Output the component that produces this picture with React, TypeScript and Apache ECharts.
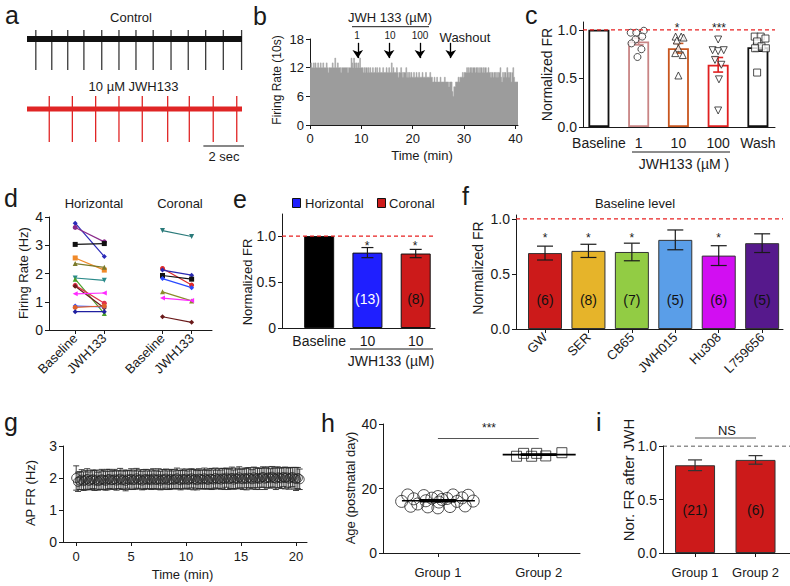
import React, { useEffect, useRef } from 'react';
import * as echarts from 'echarts';

const FONT = '"Liberation Sans", Arial, Helvetica, sans-serif';
const INK = '#1a1a1a';

// ---------- panel a : spike trains (spike times, s) ----------
const aControlSpikes = [0.42, 1.18, 1.94, 2.71, 3.56, 4.38, 5.19, 6.01, 6.86, 7.68, 8.51, 9.35, 10.22];
const aJwhSpikes = [1.06, 2.16, 3.27, 4.38, 5.49, 6.7, 7.73, 8.87, 9.99];
const aTraceLength = 10.24;
const aScaleBar = [8.4, 10.4];

// ---------- panel b : firing rate per 10 s bin ----------
const bBinMinutes = 1 / 6;
const bCounts = [
  12, 13, 12, 12, 13, 12, 13, 12, 12, 13, 12, 12, 13, 12, 12, 13, 12, 12, 12, 13, 12, 11, 12, 12,
  12, 12, 13, 12, 12, 14, 12, 12, 13, 12, 12, 12, 11, 12, 12, 12, 12, 12, 12, 12, 11, 12, 12, 12,
  14, 13, 12, 14, 13, 12, 13, 12, 13, 12, 14, 12, 12, 12, 11, 12, 11, 12, 12, 11, 12, 11, 12, 11,
  11, 12, 11, 11, 12, 11, 12, 11, 11, 12, 11, 11, 11, 12, 11, 11, 11, 12, 11, 11, 12, 11, 11, 13,
  11, 12, 11, 11, 11, 12, 11, 10, 11, 11, 12, 11, 10, 11, 11, 11, 12, 10, 11, 10, 11, 10, 11, 10,
  10, 11, 10, 10, 11, 10, 10, 11, 10, 10, 10, 11, 10, 10, 10, 11, 10, 10, 10, 10, 11, 10, 10, 9,
  9, 10, 9, 9, 10, 9, 9, 9, 10, 9, 9, 9, 9, 10, 9, 9, 9, 9, 8, 9, 9, 9, 7, 6,
  8, 8, 9, 9, 9, 10, 9, 10, 10, 10, 11, 10, 11, 11, 11, 12, 11, 12, 11, 12, 12, 11, 12, 12,
  12, 11, 12, 12, 11, 12, 11, 12, 12, 11, 12, 11, 12, 12, 11, 11, 12, 11, 11, 10, 11, 11, 10, 11,
  11, 10, 11, 10, 11, 11, 12, 10, 9, 11, 10, 11, 11, 10, 12, 11, 10, 11, 11, 9, 11, 12, 10, 9,
  9, 9, 9,
];
const bEventTimes = [9.3, 15.4, 21.4, 27.4];
const bXTicks = [0, 10, 20, 30, 40];
const bYTicks = [0, 6, 12, 18];

// ---------- panel c ----------
const cCategories = ['Baseline', '1', '10', '100', 'Wash'];
const cMeans = [1.0, 0.88, 0.81, 0.64, 0.82];
const cErrors = [0, 0.035, 0.05, 0.075, 0.04];
const cPoints1 = [0.97, 0.97, 0.99, 0.93, 0.9, 0.86, 0.8, 0.72];
const cPoints10 = [0.93, 0.93, 0.92, 0.89, 0.81, 0.76, 0.74, 0.53];
const cPoints100 = [0.9, 0.79, 0.78, 0.79, 0.69, 0.64, 0.49, 0.17];
const cPointsWash = [0.93, 0.93, 0.91, 0.88, 0.83, 0.81, 0.81, 0.56];
const cJitter1 = [-0.2, -0.06, 0.13, 0.09, -0.08, -0.18, 0.07, -0.03];
const cJitter10 = [-0.07, 0.07, 0.13, -0.04, 0, -0.08, 0.11, 0];
const cJitter100 = [0, -0.14, 0, 0.14, -0.08, 0.08, 0.02, 0];
const cJitterWash = [-0.08, 0.07, 0.19, -0.02, 0.09, 0.2, -0.07, -0.02];
const cColors = ['#111111', '#c98585', '#c8561f', '#e02020', '#111111'];

// ---------- panel d ----------
const dHorizBaseline = [3.78, 3.63, 3.03, 2.55, 2.35, 1.84, 1.8, 1.58, 1.55, 1.28, 0.85, 0.8, 0.65];
const dHorizJwh = [2.6, 3.12, 3.06, 2.12, 2.22, 1.76, 0.58, 0.95, 0.78, 1.31, 0.82, 0.85, 0.65];
const dCoronBaseline = [3.52, 2.18, 2.12, 1.93, 1.82, 1.35, 1.13, 0.47];
const dCoronJwh = [3.31, 1.59, 1.94, 1.8, 1.5, 1.03, 1.04, 0.27];
const dHorizColors = ['#2a2ab8', '#8a2a8a', '#111111', '#f08a2a', '#7a7a2a', '#2a8a8a', '#4aa02a', '#e0304a', '#6a1a1a', '#ff2aff', '#2a4aff', '#e0602a', '#2020a0'];
const dCoronColors = ['#2a7a7a', '#e02a2a', '#2a2ab0', '#111111', '#2a4aff', '#8a8a2a', '#ff2aff', '#6a1a1a'];
const dXLabels = ['Baseline', 'JWH133', '', 'Baseline', 'JWH133'];

// ---------- panel e ----------
const eCategories = ['Baseline', '10', '10'];
const eMeans = [1.0, 0.82, 0.81];
const eErrors = [0, 0.055, 0.045];
const eCounts = ['', '(13)', '(8)'];
const eColors = ['#000000', '#1f1fff', '#cc1a1a'];

// ---------- panel f ----------
const fCategories = ['GW', 'SER', 'CB65', 'JWH015', 'Hu308', 'L759656'];
const fMeans = [0.69, 0.71, 0.7, 0.81, 0.667, 0.78];
const fErrors = [0.063, 0.06, 0.08, 0.09, 0.09, 0.085];
const fCounts = ['(6)', '(8)', '(7)', '(5)', '(6)', '(5)'];
const fSignificant = [true, true, true, false, true, false];
const fColors = ['#cc1a1a', '#e6b42a', '#92cc44', '#5a9ee8', '#d20ef2', '#56198c'];

// ---------- panel g ----------
const gMinutesPerPoint = 1 / 6;
const gMeans = [
  2.0, 1.88, 1.92, 1.95, 1.9, 1.93, 1.97, 1.91, 1.94, 1.96,
  1.92, 1.95, 1.9, 1.93, 1.96, 1.94, 1.91, 1.95, 1.97, 1.93,
  1.94, 1.96, 1.92, 1.95, 1.98, 1.93, 1.95, 1.91, 1.96, 1.94,
  1.97, 1.93, 1.95, 1.99, 1.94, 1.96, 1.92, 1.95, 1.97, 1.94,
  1.96, 1.93, 1.98, 1.95, 1.94, 1.97, 1.92, 1.96, 1.95, 1.98,
  1.93, 1.95, 1.97, 1.94, 1.96, 1.99, 1.95, 1.93, 1.97, 1.95,
  1.98, 1.94, 1.96, 1.99, 1.95, 1.97, 1.93, 1.98, 1.96, 1.95,
  1.99, 1.96, 1.94, 1.98, 1.97, 1.95, 2.0, 1.96, 1.98, 1.95,
  1.99, 1.97, 2.01, 1.96, 1.98, 2.0, 1.95, 1.99, 1.97, 2.02,
  1.98, 1.96, 2.0, 1.97, 2.01, 1.99, 1.96, 2.02, 1.98, 2.0,
  1.97, 2.01, 2.03, 1.98, 2.0, 2.02, 1.99, 2.04, 2.0, 1.98,
  2.02, 2.01, 1.99, 2.03, 2.0, 2.02, 1.98, 2.01, 2.03, 1.99,
  1.97, 2.0, 1.96,
];
const gErrors = [
  0.38, 0.3, 0.28, 0.31, 0.29, 0.3, 0.32, 0.28, 0.3, 0.29,
  0.31, 0.3, 0.28, 0.29, 0.31, 0.3, 0.29, 0.32, 0.3, 0.28,
  0.29, 0.31, 0.3, 0.28, 0.32, 0.29, 0.3, 0.31, 0.28, 0.3,
  0.32, 0.29, 0.3, 0.31, 0.28, 0.3, 0.29, 0.31, 0.3, 0.28,
  0.3, 0.29, 0.31, 0.3, 0.28, 0.32, 0.29, 0.3, 0.31, 0.3,
  0.29, 0.31, 0.3, 0.28, 0.3, 0.32, 0.29, 0.3, 0.31, 0.29,
  0.3, 0.28, 0.31, 0.3, 0.32, 0.29, 0.3, 0.31, 0.29, 0.3,
  0.32, 0.3, 0.29, 0.31, 0.33, 0.3, 0.31, 0.29, 0.32, 0.3,
  0.31, 0.33, 0.3, 0.32, 0.31, 0.34, 0.3, 0.32, 0.31, 0.33,
  0.3, 0.32, 0.31, 0.34, 0.31, 0.33, 0.3, 0.32, 0.34, 0.31,
  0.33, 0.3, 0.32, 0.34, 0.31, 0.33, 0.3, 0.32, 0.31, 0.34,
  0.33, 0.31, 0.32, 0.3, 0.34, 0.31, 0.33, 0.32, 0.3, 0.34,
  0.36, 0.33, 0.32,
];

// ---------- panel h ----------
const hGroups = ['Group 1', 'Group 2'];
const hGroup1Ages = [18.0, 17.8, 17.5, 18.0, 17.9, 16.8, 17.0, 16.6, 16.9, 17.1, 16.0, 16.2, 15.8, 16.0, 16.1, 14.5, 14.3, 14.0, 14.4, 14.6, 15.2];
const hGroup1Jitter = [-0.3, -0.14, 0.0, 0.15, 0.3, -0.24, -0.06, 0.04, 0.09, 0.24, -0.36, -0.12, 0.01, 0.19, 0.35, -0.27, -0.1, 0.0, 0.12, 0.27, -0.2];
const hGroup2Ages = [30.0, 30.9, 30.0, 30.9, 30.1, 31.1];
const hGroup2Jitter = [-0.22, -0.15, -0.07, -0.02, 0.07, 0.23];
const hSignificanceLevel = 35.6;

// ---------- panel i ----------
const iMeans = [0.82, 0.87];
const iErrors = [0.05, 0.04];
const iCounts = ['(21)', '(6)'];

// reference level (normalized firing rate = 1)
const referenceLevel = 1.0;

// ================= helpers =================
const INV_TRI = 'path://M0,0L10,0L5,9Z';
const LEFT_TRI = 'path://M10,0L10,10L0,5Z';
const dHorizSymbols = ['diamond', 'circle', 'rect', 'rect', 'triangle', INV_TRI, 'triangle', 'circle', 'diamond', LEFT_TRI, 'diamond', 'circle', 'diamond'];
const dCoronSymbols = [INV_TRI, 'circle', 'diamond', 'rect', 'diamond', 'triangle', LEFT_TRI, 'diamond'];

function mkAxis(gi: number, min: number, max: number, o: any = {}) {
  const label: any = {
    show: o.showLabels ?? true,
    color: INK,
    fontSize: o.fontSize ?? 13,
    fontFamily: FONT,
    margin: o.margin ?? 6,
    rotate: o.rotate ?? 0,
  };
  const tick: any = { show: o.showTicks ?? true, length: 4, lineStyle: { color: INK, width: 1 } };
  if (o.ticks) {
    label.customValues = o.ticks;
    tick.customValues = o.ticks;
  }
  if (o.fmt) label.formatter = o.fmt;
  return {
    type: 'value',
    gridIndex: gi,
    min,
    max,
    show: o.show ?? true,
    axisLine: { show: true, onZero: false, lineStyle: { color: INK, width: 1 } },
    axisTick: tick,
    axisLabel: label,
    splitLine: { show: false },
  };
}

function errSeries(ai: number, xs: number[], means: number[], errs: number[], colors: string[] | string, cap: number, lw: number, z = 5) {
  const data: number[][] = [];
  const cols: string[] = [];
  means.forEach((m, i) => {
    if (errs[i] > 0) {
      data.push([xs[i], m, errs[i]]);
      cols.push(Array.isArray(colors) ? colors[i] : colors);
    }
  });
  return {
    type: 'custom',
    xAxisIndex: ai,
    yAxisIndex: ai,
    z,
    silent: true,
    encode: { x: 0, y: 1 },
    data,
    renderItem: (p: any, api: any) => {
      const x = api.value(0);
      const m = api.value(1);
      const e = api.value(2);
      const t = api.coord([x, m + e]);
      const b = api.coord([x, m - e]);
      const st = { stroke: cols[p.dataIndex], lineWidth: lw };
      return {
        type: 'group',
        children: [
          { type: 'line', shape: { x1: t[0], y1: t[1], x2: b[0], y2: b[1] }, style: st },
          { type: 'line', shape: { x1: t[0] - cap, y1: t[1], x2: t[0] + cap, y2: t[1] }, style: st },
          { type: 'line', shape: { x1: b[0] - cap, y1: b[1], x2: b[0] + cap, y2: b[1] }, style: st },
        ],
      };
    },
  };
}

// dashed horizontal reference line across a grid, as its own line series
function refLine(ai: number, xMin: number, xMax: number, color: string) {
  return {
    type: 'line',
    xAxisIndex: ai,
    yAxisIndex: ai,
    silent: true,
    symbol: 'none',
    z: 7,
    data: [[xMin, referenceLevel], [xMax, referenceLevel]],
    lineStyle: { color, type: [4, 3], width: 1.2 },
    itemStyle: { color },
  };
}

const mean = (a: number[]) => a.reduce((s, v) => s + v, 0) / a.length;
const sem = (a: number[]) => {
  const m = mean(a);
  const sd = Math.sqrt(a.reduce((s, v) => s + (v - m) * (v - m), 0) / (a.length - 1));
  return sd / Math.sqrt(a.length);
};

// ================= option =================
function buildOption() {
  const idx = (arr: any[]) => arr.map((_, i) => i);
  const grids = [
    { left: 27, top: 24, width: 215, height: 135 }, // a
    { left: 310, top: 39, width: 208, height: 86 }, // b
    { left: 583, top: 22, width: 192, height: 105 }, // c
    { left: 49, top: 217, width: 163, height: 113 }, // d
    { left: 282, top: 214, width: 153, height: 114 }, // e
    { left: 516, top: 215, width: 267, height: 114 }, // f
    { left: 63, top: 446, width: 244, height: 96 }, // g
    { left: 383, top: 424, width: 197, height: 129 }, // h
    { left: 663, top: 446, width: 127, height: 107 }, // i
  ].map((g) => ({ ...g, containLabel: false, outerBoundsMode: 'none' }));

  const xr = {
    c: [-0.4, 4.43],
    e: [-0.77, 2.4],
    f: [-0.668, 5.48],
    i: [-0.53, 1.57],
  };

  const fmt1 = (v: number) => v.toFixed(1);
  const xAxis = [
    mkAxis(0, 0, aTraceLength, { show: false }),
    mkAxis(1, 0, 40.5, { ticks: bXTicks, margin: 7 }),
    mkAxis(2, xr.c[0], xr.c[1], { ticks: idx(cCategories), fmt: (v: number) => cCategories[Math.round(v)], showTicks: false, margin: 9, fontSize: 14 }),
    mkAxis(3, -0.9, 4.7, { ticks: [0, 1, 3, 4], fmt: (v: number) => dXLabels[Math.round(v)], rotate: 45, margin: 6 }),
    mkAxis(4, xr.e[0], xr.e[1], { ticks: idx(eCategories), fmt: (v: number) => eCategories[Math.round(v)], showTicks: false, margin: 6, fontSize: 14 }),
    mkAxis(5, xr.f[0], xr.f[1], { ticks: idx(fCategories), fmt: (v: number) => fCategories[Math.round(v)], rotate: 45, margin: 6 }),
    mkAxis(6, -1.2, 21, { ticks: [0, 5, 10, 15, 20], margin: 8 }),
    mkAxis(7, -0.545, 1.41, { ticks: [0, 1], fmt: (v: number) => hGroups[Math.round(v)], margin: 13 }),
    mkAxis(8, xr.i[0], xr.i[1], { ticks: [0, 1], fmt: (v: number) => hGroups[Math.round(v)], margin: 13 }),
  ];
  const yAxis = [
    mkAxis(0, -120, 15, { show: false }),
    mkAxis(1, 0, 18, { ticks: bYTicks }),
    mkAxis(2, 0, 1.08, { ticks: [0, 0.5, 1], fmt: fmt1, fontSize: 14 }),
    mkAxis(3, 0, 4, { ticks: [0, 1, 2, 3, 4], fontSize: 14 }),
    mkAxis(4, 0, 1.24, { ticks: [0, 0.5, 1], fmt: (v: number) => (v === 0 ? '0' : v.toFixed(1)), fontSize: 14 }),
    mkAxis(5, 0, 1.036, { ticks: [0, 0.5, 1], fmt: fmt1, fontSize: 14 }),
    mkAxis(6, 0, 3, { ticks: [0, 1, 2, 3], fontSize: 14 }),
    mkAxis(7, 0, 40, { ticks: [0, 20, 40], fontSize: 14 }),
    mkAxis(8, 0, 1.0, { ticks: [0, 0.5, 1], fmt: fmt1, fontSize: 14 }),
  ];

  const series: any[] = [];

  // ---- a ----
  const aCtrlBase = 0;
  const aJwhBase = -70;
  series.push({
    type: 'line', xAxisIndex: 0, yAxisIndex: 0, silent: true, symbol: 'none',
    data: [[0, aCtrlBase], [aTraceLength, aCtrlBase]], lineStyle: { color: '#111', width: 6 },
  });
  series.push({
    type: 'line', xAxisIndex: 0, yAxisIndex: 0, silent: true, symbol: 'none',
    data: [[0, aJwhBase], [aTraceLength, aJwhBase]], lineStyle: { color: '#e02525', width: 5 },
  });
  const spikeSeries = (times: number[], base: number, up: number, down: number, color: string) => ({
    type: 'custom', xAxisIndex: 0, yAxisIndex: 0, silent: true, encode: { x: 0, y: 1 },
    data: times.map((t) => [t, base]),
    renderItem: (_p: any, api: any) => {
      const t = api.value(0);
      const a = api.coord([t, base + up]);
      const b = api.coord([t, base - down]);
      return { type: 'line', shape: { x1: a[0], y1: a[1], x2: b[0], y2: b[1] }, style: { stroke: color, lineWidth: 1.3 } };
    },
  });
  series.push(spikeSeries(aControlSpikes, aCtrlBase, 9, 31, '#3a3a3a'));
  series.push(spikeSeries(aJwhSpikes, aJwhBase, 13, 33, '#e02525'));
  series.push({
    type: 'line', xAxisIndex: 0, yAxisIndex: 0, silent: true, symbol: 'none',
    data: [[aScaleBar[0], -107], [aScaleBar[1], -107]], lineStyle: { color: '#111', width: 1.2 },
  });

  // ---- b ----
  const bData = bCounts.map((v, i) => [i * bBinMinutes, v]);
  bData.push([bCounts.length * bBinMinutes, bCounts[bCounts.length - 1]]);
  series.push({
    type: 'line', xAxisIndex: 1, yAxisIndex: 1, step: 'end', symbol: 'none', silent: true,
    data: bData,
    lineStyle: { color: '#a6a6a6', width: 0.6 },
    areaStyle: { color: '#9c9c9c', opacity: 1 },
    markLine: {
      silent: true,
      symbol: ['none', 'arrow'],
      symbolSize: 8,
      label: { show: false },
      lineStyle: { color: '#000', width: 1.3, type: 'solid' },
      data: bEventTimes.map((t) => [{ coord: [t, 17.2] }, { coord: [t, 14.0] }]),
    },
  });

  // ---- c ----
  series.push({
    type: 'bar', xAxisIndex: 2, yAxisIndex: 2, barWidth: 21, silent: true,
    data: cMeans.map((m, i) => ({ value: [i, m], itemStyle: { color: '#fff', borderColor: cColors[i], borderWidth: 1.8 } })),
  });
  series.push(refLine(2, xr.c[0], xr.c[1], '#e82020'));
  series.push(errSeries(2, idx(cMeans), cMeans, cErrors, cColors, 5, 1.6));
  const cGroups = [
    { vals: cPoints1, jit: cJitter1, pos: 1, symbol: 'circle', size: 7 },
    { vals: cPoints10, jit: cJitter10, pos: 2, symbol: 'triangle', size: 7 },
    { vals: cPoints100, jit: cJitter100, pos: 3, symbol: INV_TRI, size: 7 },
    { vals: cPointsWash, jit: cJitterWash, pos: 4, symbol: 'rect', size: 7 },
  ];
  cGroups.forEach((g) =>
    series.push({
      type: 'scatter', xAxisIndex: 2, yAxisIndex: 2, silent: true, z: 6,
      symbol: g.symbol, symbolSize: g.size,
      itemStyle: { color: '#fff', borderColor: '#222', borderWidth: 1 },
      data: g.vals.map((v, k) => [g.pos + g.jit[k], v]),
    }),
  );

  // ---- d ----
  dHorizBaseline.forEach((b, i) =>
    series.push({
      type: 'line', xAxisIndex: 3, yAxisIndex: 3, silent: true,
      data: [[0, b], [1, dHorizJwh[i]]],
      symbol: dHorizSymbols[i], symbolSize: 5,
      lineStyle: { color: dHorizColors[i], width: 1.2 },
      itemStyle: { color: dHorizColors[i] },
    }),
  );
  dCoronBaseline.forEach((b, i) =>
    series.push({
      type: 'line', xAxisIndex: 3, yAxisIndex: 3, silent: true,
      data: [[3, b], [4, dCoronJwh[i]]],
      symbol: dCoronSymbols[i], symbolSize: 5,
      lineStyle: { color: dCoronColors[i], width: 1.2 },
      itemStyle: { color: dCoronColors[i] },
    }),
  );

  // ---- e ----
  series.push({
    type: 'bar', xAxisIndex: 4, yAxisIndex: 4, barWidth: 30, silent: true,
    data: eMeans.map((m, i) => ({
      value: [i, m],
      itemStyle: { color: eColors[i], borderColor: '#111', borderWidth: 1 },
      label: { color: i === 1 ? '#fff' : '#111' },
    })),
    label: {
      show: true, position: 'insideBottom', distance: 22, fontSize: 14, fontFamily: FONT,
      formatter: (p: any) => eCounts[p.dataIndex],
    },
  });
  series.push(refLine(4, xr.e[0], xr.e[1], '#e82020'));
  series.push(errSeries(4, idx(eMeans), eMeans, eErrors, INK, 6, 1.2));

  // ---- f ----
  series.push({
    type: 'bar', xAxisIndex: 5, yAxisIndex: 5, barWidth: 34, silent: true,
    data: fMeans.map((m, i) => ({
      value: [i, m],
      itemStyle: { color: fColors[i], borderColor: '#333', borderWidth: 1 },
      label: { color: '#111' },
    })),
    label: {
      show: true, position: 'insideBottom', distance: 22, fontSize: 14, fontFamily: FONT,
      formatter: (p: any) => fCounts[p.dataIndex],
    },
  });
  series.push(refLine(5, xr.f[0], xr.f[1], '#e82020'));
  series.push(errSeries(5, idx(fMeans), fMeans, fErrors, INK, 8, 1.2));

  // ---- g ----
  const gX = gMeans.map((_, i) => i * gMinutesPerPoint);
  series.push(errSeries(6, gX, gMeans, gErrors, '#2a2a2a', 3, 0.9, 3));
  series.push({
    type: 'scatter', xAxisIndex: 6, yAxisIndex: 6, silent: true, z: 4,
    symbol: 'circle', symbolSize: 9,
    itemStyle: { color: 'rgba(255,255,255,0)', borderColor: '#222', borderWidth: 1 },
    data: gMeans.map((v, i) => [gX[i], v]),
  });

  // ---- h ----
  series.push({
    type: 'scatter', xAxisIndex: 7, yAxisIndex: 7, silent: true, z: 4,
    symbol: 'circle', symbolSize: 12,
    itemStyle: { color: 'rgba(255,255,255,0)', borderColor: '#222', borderWidth: 1 },
    data: hGroup1Ages.map((v, k) => [hGroup1Jitter[k], v]),
    markLine: {
      silent: true, symbol: 'none', label: { show: false },
      lineStyle: { color: '#555', width: 1.2, type: 'solid' },
      data: [[{ coord: [0, hSignificanceLevel] }, { coord: [1, hSignificanceLevel] }]],
    },
  });
  series.push({
    type: 'scatter', xAxisIndex: 7, yAxisIndex: 7, silent: true, z: 4,
    symbol: 'rect', symbolSize: 10,
    itemStyle: { color: 'rgba(255,255,255,0)', borderColor: '#222', borderWidth: 1 },
    data: hGroup2Ages.map((v, k) => [1 + hGroup2Jitter[k], v]),
  });
  const hStats = [
    [0, mean(hGroup1Ages), sem(hGroup1Ages)],
    [1, mean(hGroup2Ages), sem(hGroup2Ages)],
  ];
  series.push({
    type: 'custom', xAxisIndex: 7, yAxisIndex: 7, silent: true, z: 6, encode: { x: 0, y: 1 },
    data: hStats,
    renderItem: (_p: any, api: any) => {
      const x = api.value(0), m = api.value(1), e = api.value(2);
      const c = api.coord([x, m]);
      const t = api.coord([x, m + e]);
      const b = api.coord([x, m - e]);
      const st = { stroke: '#000', lineWidth: 1.6 };
      return {
        type: 'group',
        children: [
          { type: 'line', shape: { x1: c[0] - 36, y1: c[1], x2: c[0] + 37, y2: c[1] }, style: st },
          { type: 'line', shape: { x1: t[0], y1: t[1], x2: b[0], y2: b[1] }, style: st },
          { type: 'line', shape: { x1: t[0] - 18, y1: t[1], x2: t[0] + 18, y2: t[1] }, style: st },
          { type: 'line', shape: { x1: b[0] - 18, y1: b[1], x2: b[0] + 18, y2: b[1] }, style: st },
        ],
      };
    },
  });

  // ---- i ----
  series.push({
    type: 'bar', xAxisIndex: 8, yAxisIndex: 8, barWidth: 40, silent: true,
    data: iMeans.map((m, i) => ({ value: [i, m], itemStyle: { color: '#cc1a1a', borderColor: '#333', borderWidth: 1 } })),
    label: {
      show: true, position: 'insideBottom', distance: 36, fontSize: 14, fontFamily: FONT, color: '#111',
      formatter: (p: any) => iCounts[p.dataIndex],
    },
  });
  series.push(refLine(8, xr.i[0], xr.i[1], '#222'));
  series.push(errSeries(8, [0, 1], iMeans, iErrors, '#333', 7, 1.2));

  // ================= graphic annotations =================
  const G: any[] = [];
  const T = (text: string, x: number, y: number, o: any = {}) =>
    G.push({
      type: 'text', x, y, rotation: o.rot ? Math.PI / 2 : 0, z: 100, silent: true,
      style: {
        text, fill: o.color || INK, fontSize: o.size || 13, fontFamily: FONT,
        align: o.align || 'center', verticalAlign: 'middle',
      },
    });
  const L = (x1: number, y1: number, x2: number, y2: number, color = INK, w = 1) =>
    G.push({ type: 'line', z: 100, silent: true, shape: { x1, y1, x2, y2 }, style: { stroke: color, lineWidth: w } });

  // panel letters
  T('a', 5, 14.7, { size: 25, align: 'left' });
  T('b', 253, 16.4, { size: 25, align: 'left' });
  T('c', 525, 14.9, { size: 25, align: 'left' });
  T('d', 4, 198.4, { size: 25, align: 'left' });
  T('e', 233, 199.4, { size: 25, align: 'left' });
  T('f', 462, 196.4, { size: 25, align: 'left' });
  T('g', 4, 422.4, { size: 25, align: 'left' });
  T('h', 321, 423.4, { size: 25, align: 'left' });
  T('i', 596, 422.4, { size: 25, align: 'left' });

  // a
  T('Control', 131, 17.5);
  T('10 µM JWH133', 133.5, 86.5);
  T('2 sec', 224, 156);

  // b
  T('JWH 133 (µM)', 390, 17);
  L(352, 26.7, 429, 26.7);
  T('1', 357, 35, { size: 10 });
  T('10', 390, 35, { size: 10 });
  T('100', 420, 35, { size: 10 });
  T('Washout', 465, 37);
  T('Firing Rate (10s)', 277, 80, { rot: true, size: 12 });
  T('Time (min)', 422, 155);

  // c
  T('Normalized FR', 547, 74.5, { rot: true, size: 14 });
  T('*', 677, 27.5, { size: 12 });
  T('***', 719, 27.5, { size: 12 });
  L(632, 152, 730, 152);
  T('JWH133 (µM )', 684, 164, { size: 14 });

  // d
  T('Horizontal', 94, 203);
  T('Coronal', 180, 203);
  T('Firing Rate (Hz)', 23, 273, { rot: true });

  // e
  G.push({ type: 'rect', z: 100, silent: true, shape: { x: 292.5, y: 198.5, width: 8, height: 9 }, style: { fill: '#1f1fff', stroke: '#111', lineWidth: 1 } });
  T('Horizontal', 305, 203, { align: 'left', size: 13 });
  G.push({ type: 'rect', z: 100, silent: true, shape: { x: 377.5, y: 198.5, width: 8, height: 9 }, style: { fill: '#cc1a1a', stroke: '#111', lineWidth: 1 } });
  T('Coronal', 389, 203, { align: 'left', size: 13 });
  T('Normalized FR', 247, 282, { rot: true });
  T('*', 367, 246, { size: 12 });
  T('*', 415, 246, { size: 12 });
  L(350, 349, 433, 349);
  T('JWH133 (µM)', 391, 361, { size: 14 });

  // f
  T('Baseline level', 635, 203);
  T('Normalized FR', 478, 268, { rot: true, size: 14 });
  fSignificant.forEach((s, i) => {
    if (s) T('*', 545 + i * 43.4, 238, { size: 12 });
  });

  // g
  T('AP FR (Hz)', 30, 493, { rot: true });
  T('Time (min)', 182.5, 574);

  // h
  T('Age (postnatal day)', 350, 488, { rot: true });
  T('***', 489, 428, { size: 12 });

  // i
  T('NS', 727, 430);
  L(695, 438, 756, 438, '#555', 1.2);
  T('Nor. FR after JWH', 628, 480, { rot: true, size: 15 });

  return {
    animation: false,
    backgroundColor: '#fff',
    textStyle: { fontFamily: FONT },
    grid: grids,
    xAxis,
    yAxis,
    series,
    graphic: G,
  };
}

export default function App() {
  const ref = useRef<HTMLDivElement>(null);
  useEffect(() => {
    const chart = echarts.init(ref.current!, null, { renderer: 'svg', width: 790, height: 586 });
    chart.setOption(buildOption() as any);
    return () => chart.dispose();
  }, []);
  return (
    <div
      ref={ref}
      style={{ position: 'absolute', left: 0, top: 0, width: 790, height: 586, background: '#fff' }}
    />
  );
}
